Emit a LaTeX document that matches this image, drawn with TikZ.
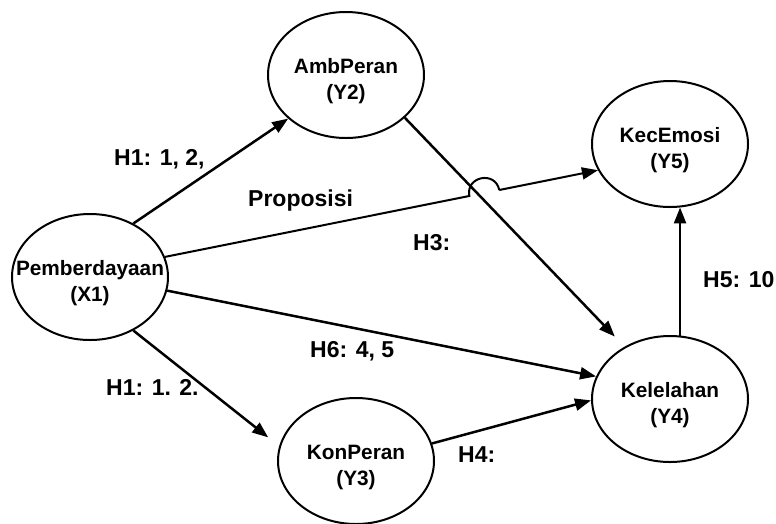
\documentclass[tikz,border=0pt]{standalone}
\usepackage{fontspec}
\setmainfont{Liberation Sans}
\usetikzlibrary{arrows.meta,shapes.geometric,calc}
\newcommand\twolines[2]{\rule{0pt}{27pt}\makebox[0pt]{#1}\\\makebox[0pt]{#2}}
\begin{document}
\begin{tikzpicture}[x=1pt,y=-1pt,
  lat/.style={ellipse,draw,line width=2pt,minimum width=156pt,minimum height=126pt,inner sep=0pt,align=center,font=\fontsize{20.8}{26}\selectfont\bfseries},
  conn/.style={line width=2.5pt,-{Triangle[length=16pt,width=12pt]}},
  lbl/.style={anchor=base west,inner sep=0pt,font=\fontsize{23}{28}\selectfont\bfseries}]
\useasboundingbox (0,0) rectangle (776,523);
\node[lat] (X1) at (90,277) {\twolines{Pemberdayaan}{(X1)}};
\node[lat] (Y2) at (346,75) {\twolines{AmbPeran}{(Y2)}};
\node[lat] (Y5) at (670,144) {\twolines{KecEmosi}{(Y5)}};
\node[lat] (Y4) at (670,399) {\twolines{Kelelahan}{(Y4)}};
\node[lat] (Y3) at (356,461) {\twolines{KonPeran}{(Y3)}};
% connectors
\draw[conn] (X1.51) -- (Y2.217);
\draw[conn,shorten >=14pt] (Y2.-36) -- (Y4.131.7);
\draw[conn] (X1.-10) -- (Y4.163);
\draw[conn,shorten >=14pt] (X1.-51) -- (Y3.169);
\draw[conn] (Y3.13) -- (Y4.181);
\draw[conn] (Y4.81) -- (Y5.-81);
\coordinate (h1) at ($(X1.15)!0.703!(Y5.200)$);
\coordinate (h2) at ($(X1.15)!0.772!(Y5.200)$);
\draw[line width=2pt] (X1.15) -- (h1) .. controls ($(h1)!20pt!90:(h2)$) and ($(h2)!20pt!-90:(h1)$) .. (h2);
\draw[conn,line width=2pt] (h2) -- (Y5.200);
% labels
\node[lbl] (l1) at (114,165) {H1: 1, 2,};
\node[lbl] (l2) at (248,206) {Proposisi};
\node[lbl] (l3) at (413,250) {H3:};
\node[lbl] (l4) at (703,287) {H5: 10};
\node[lbl] (l5) at (310,357) {H6: 4, 5};
\node[lbl] (l6) at (106,395) {H1: 1. 2.};
\node[lbl] (l7) at (458,462) {H4:};
\end{tikzpicture}
\end{document}
